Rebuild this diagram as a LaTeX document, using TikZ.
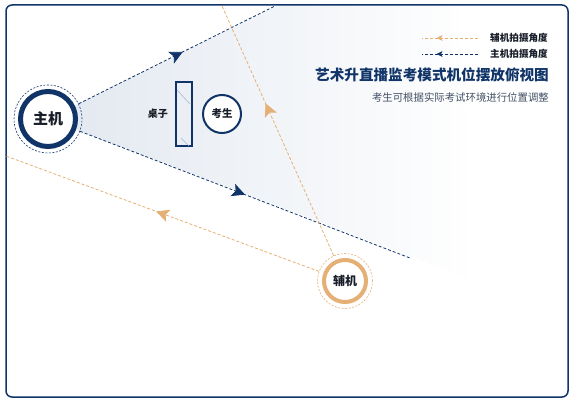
\documentclass[tikz,border=0pt]{standalone}
\usepackage{fontspec}
\setmainfont{Noto Sans CJK SC}
\usetikzlibrary{
    arrows.meta,
    backgrounds,
    calc,
    decorations.markings,
    positioning,
}
\definecolor{MyNavy}{RGB}{16,52,104}
\definecolor{MyTan}{RGB}{229,176,118}
\definecolor{MyCone}{RGB}{226,232,240}
\definecolor{MyGray}{RGB}{66,80,100}
\definecolor{MyInk}{RGB}{24,30,40}
\tikzstyle{frame}=[draw=MyNavy,line width=1.5pt,rounded corners=6pt]
\tikzstyle{halo}=[circle,dashed,line width=.6pt,dash pattern=on 2pt off 1.5pt,inner sep=0pt]
\tikzstyle{ring}=[circle,fill=white,inner sep=0pt,text=MyInk]
\tikzstyle{hostline}=[draw=MyNavy,line width=.8pt,dash pattern=on 3pt off 2pt]
\tikzstyle{auxline}=[draw=MyTan,line width=.8pt,dash pattern=on 3pt off 2pt]
\tikzstyle{desk}=[draw=MyNavy,line width=2pt,rectangle,minimum width=16pt,minimum height=64pt,inner sep=0pt]
\tikzstyle{label}=[inner sep=0pt,text=MyInk,font=\bfseries\fontsize{10}{10}\selectfont]
\tikzstyle{legend}=[inner sep=0pt,anchor=west,text=MyInk,font=\bfseries\fontsize{9.6}{10}\selectfont]
\tikzset{
    >=Stealth,
    midarrow/.style={postaction={decorate},decoration={markings,
        mark=at position #1 with {\arrow{Stealth[length=13pt,width=13pt,inset=3pt]}}}},
    smallarrow/.style={postaction={decorate},decoration={markings,
        mark=at position #1 with {\arrow{Stealth[length=6pt,width=6pt,inset=1.5pt]}}}}
}
% camera: name, centre, colour, ring size, line width, label
\newcommand{\Camera}[6]{%
    \node[halo,draw=#3,minimum size=#4+13pt] (#1) at #2 {};
    \node[ring,draw=#3,line width=#5,minimum size=#4] (#1 ring) at (#1) {#6};
}

\begin{document}
\begin{tikzpicture}[x=1pt,y=-1pt]
    \useasboundingbox (0,0) rectangle (569,398);
    \draw[frame] (6,5) rectangle (568,397);

    % Cameras
    \Camera{host}{(48,119)}{MyNavy}{55pt}{5pt}{\bfseries\fontsize{15}{15}\selectfont 主机};
    \Camera{aux}{(345,281)}{MyTan}{42pt}{4pt}{\bfseries\fontsize{12}{12}\selectfont 辅机};

    % Desk and examinee
    \node[desk] (table) at (184,114) {};
    \draw[MyNavy!35,line width=.6pt] ($(table.north west)+(2,9)$) -- ($(table.north west)+(15,23)$);
    \draw[MyNavy!35,line width=.6pt] ($(table.south west)+(6,-9)$) -- ($(table.south west)+(14,-1)$);
    \node[label,left=7pt of table] (table label) {桌子};
    \node[circle,draw=MyNavy,line width=2pt,fill=white,minimum size=38pt,inner sep=0pt,
        right=9pt of table,text=MyInk,font=\bfseries\fontsize{10.5}{10.5}\selectfont] (examinee) {考生};

    % Shooting angles
    \coordinate (host top) at (275,6);
    \coordinate (host bottom) at (410,258);
    \coordinate (aux left) at (6,156);
    \coordinate (aux up) at (222,6);
    \draw[hostline,midarrow=.53] (host) -- (host top);
    \draw[hostline,midarrow=.5] (host) -- (host bottom);
    \draw[auxline,midarrow=.52] (aux) -- (aux left);
    \draw[auxline,midarrow=.61] (aux) -- (aux up);

    \begin{scope}[on background layer]
        \shade[left color=MyCone,middle color=MyCone!65,right color=white]
            (host.center) -- (279,5) -- (458,5) -- (478,282) -- cycle;
    \end{scope}

    % Legend
    \coordinate (leg aux a) at (478,38);
    \coordinate (leg aux b) at (422,38);
    \coordinate (leg host a) at (478,54);
    \coordinate (leg host b) at (422,54);
    \draw[auxline,smallarrow=.74] (leg aux a) -- (leg aux b);
    \draw[hostline,smallarrow=.74] (leg host a) -- (leg host b);
    \node[legend,right=12pt of leg aux a] {辅机拍摄角度};
    \node[legend,right=12pt of leg host a] {主机拍摄角度};

    % Title
    \node[inner sep=0pt,anchor=east,text=MyNavy,font=\bfseries\fontsize{14.6}{15}\selectfont] (title) at (549,75) {艺术升直播监考模式机位摆放俯视图};
    \node[inner sep=0pt,below=10pt of title.south east,anchor=north east,text=MyGray,font=\fontsize{10.4}{11}\selectfont] (subtitle) {考生可根据实际考试环境进行位置调整};
\end{tikzpicture}
\end{document}
